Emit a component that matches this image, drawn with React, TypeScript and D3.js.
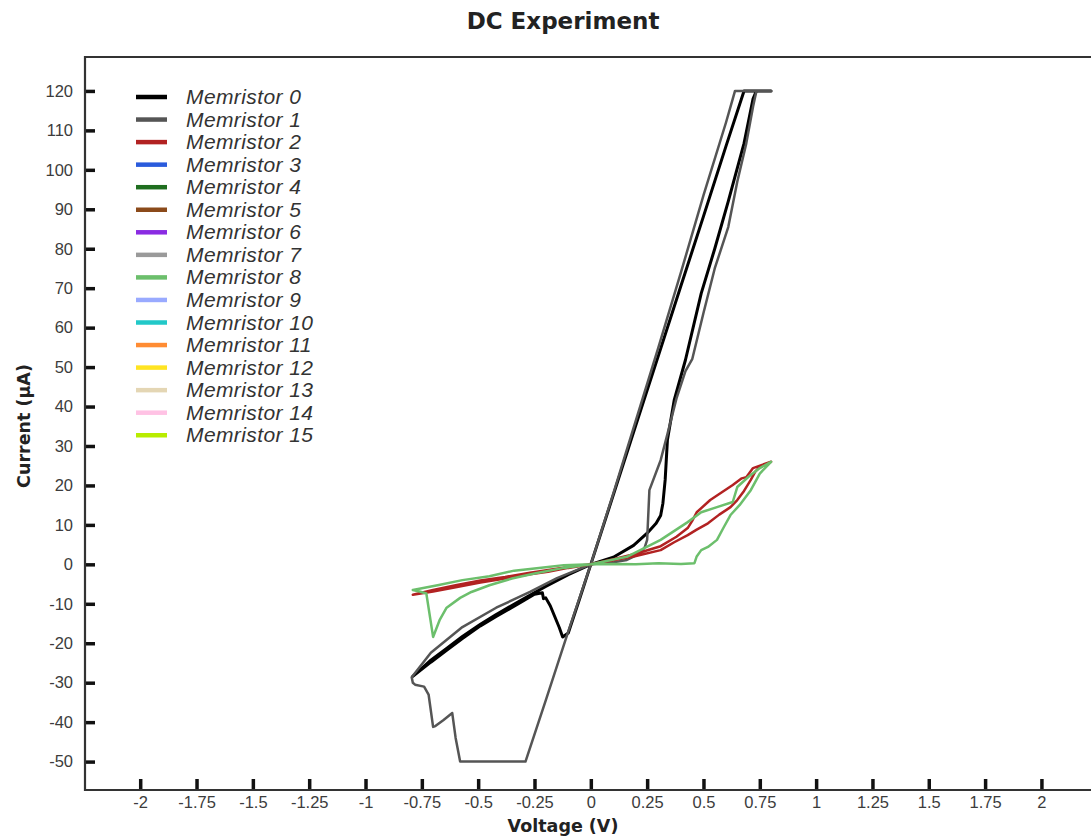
import React, { useEffect, useRef } from "react";
import * as d3 from "d3";

// --- data (voltage in V, current in µA) ---
const memristorNames = d3.range(16).map((i) => "Memristor " + i);
const memristorColors = [
  "#000000", "#555555", "#b22222", "#2a5bdc", "#1f6e1f", "#8b4a1a", "#8a2be2", "#9a9a9a",
  "#6cbf6c", "#99aaff", "#22c8c8", "#ff8c33", "#ffe422", "#e4d6b4", "#ffc2e4", "#b8ec00",
];

const mem0: [number, number][] = [
  [0, 0], [0.1, 1.8], [0.19, 4.8], [0.25, 7.9], [0.29, 10.4], [0.31, 12.4], [0.32, 15.5], [0.33, 21.4], [0.34, 31.5],
  [0.37, 41.6], [0.42, 51.8], [0.49, 68.7], [0.55, 80], [0.61, 92], [0.68, 106.7], [0.72, 118], [0.735, 120],
  [0.8, 120], [0.68, 120], [0.6, 106], [0.5, 88.2], [0.4, 70.6], [0.3, 52.9], [0.2, 35.3], [0.1, 17.6], [0, 0],
  [-0.05, -8.8], [-0.1, -17.4], [-0.125, -18.4], [-0.14, -16], [-0.18, -10.5], [-0.2, -8.5], [-0.21, -8.7],
  [-0.215, -7.2], [-0.25, -7.6], [-0.31, -9.6], [-0.42, -13.2], [-0.49, -15.6], [-0.57, -18.8], [-0.64, -21.8],
  [-0.71, -24.8], [-0.79, -28.4], [-0.71, -24.3], [-0.64, -21.3], [-0.57, -18.3], [-0.49, -15.2], [-0.42, -12.7],
  [-0.31, -9.1], [-0.2, -5.6], [-0.1, -2.6], [0, 0],
];

const mem1: [number, number][] = [
  [0, 0], [0.1, 0.5], [0.16, 1.1], [0.22, 2.8], [0.24, 4.4], [0.25, 6.2], [0.26, 18.8], [0.31, 26.4],
  [0.34, 33], [0.38, 42], [0.42, 49], [0.45, 52], [0.5, 63.7], [0.55, 75], [0.61, 85.5], [0.65, 97],
  [0.69, 106.7], [0.72, 116], [0.735, 120], [0.8, 120], [0.64, 120], [0.63, 118], [0.6, 112],
  [0.5, 93.5], [0.4, 74], [0.3, 55], [0.2, 36.5], [0.1, 18], [0, 0], [-0.1, -17], [-0.2, -34.5],
  [-0.29, -50], [-0.58, -50], [-0.6, -44], [-0.615, -37.7], [-0.655, -39.5], [-0.69, -41], [-0.7, -41.2],
  [-0.72, -33], [-0.74, -31], [-0.78, -30.5], [-0.79, -30], [-0.795, -28.6], [-0.71, -22.4], [-0.57, -15.9],
  [-0.42, -11], [-0.27, -7], [-0.15, -3.5], [0, 0],
];

const mem2: [number, number][] = [
  [0, 0], [-0.1, -0.9], [-0.19, -1.9], [-0.27, -2.5], [-0.38, -3.6], [-0.49, -4.6], [-0.6, -5.8],
  [-0.7, -6.9], [-0.79, -7.7], [-0.7, -6.5], [-0.6, -5.3], [-0.49, -4.1], [-0.38, -3.2], [-0.27, -2.1],
  [-0.1, -0.7], [0, 0], [0.1, 1.3], [0.2, 2.7], [0.31, 4.6], [0.38, 7], [0.43, 9.2], [0.45, 11],
  [0.47, 13.2], [0.53, 16.3], [0.58, 18.2], [0.63, 20.1], [0.67, 21.8], [0.69, 22.1], [0.72, 24.4],
  [0.76, 25.2], [0.8, 26], [0.75, 24.7], [0.73, 23.5], [0.71, 21.4], [0.68, 18.6], [0.65, 16.3],
  [0.62, 14.5], [0.57, 12.6], [0.52, 10.4], [0.47, 8.8], [0.43, 7.4], [0.37, 5.6], [0.31, 3.6],
  [0.2, 2.1], [0.1, 1.0], [0, 0],
];

const mem8: [number, number][] = [
  [0, 0], [0.1, 0.1], [0.2, 0], [0.3, 0.3], [0.4, 0.1], [0.46, 0.3], [0.47, 2], [0.49, 3.6],
  [0.52, 4.4], [0.56, 6.2], [0.59, 9.4], [0.62, 12.5], [0.66, 15], [0.71, 18.8], [0.75, 23], [0.8, 26],
  [0.75, 24.4], [0.7, 22.2], [0.65, 19.6], [0.63, 15.8], [0.56, 14.5], [0.49, 13.2], [0.43, 10.7],
  [0.31, 6.2], [0.16, 1.9], [0, 0], [-0.12, -0.2], [-0.19, -0.7], [-0.34, -1.6], [-0.45, -3],
  [-0.57, -4], [-0.68, -5.3], [-0.79, -6.5], [-0.76, -6.9], [-0.73, -7.4], [-0.7, -18.4],
  [-0.67, -14], [-0.64, -11], [-0.58, -8.5], [-0.53, -7], [-0.45, -5.3], [-0.35, -3.6],
  [-0.25, -2.3], [-0.12, -0.9], [0, 0],
];

const traces = [
  { index: 0, points: mem0 },
  { index: 1, points: mem1 },
  { index: 2, points: mem2 },
  { index: 8, points: mem8 },
];

const xTicks = d3.range(-2, 2.001, 0.25);
const yTicks = d3.range(-50, 121, 10);

const tickFont = "'Liberation Sans', Arial, sans-serif";
const titleFont = "'DejaVu Sans', sans-serif";

export default function App() {
  const ref = useRef<SVGSVGElement>(null);

  useEffect(() => {
    const svg = d3.select(ref.current);
    svg.selectAll("*").remove();

    const left = 85, right = 1091, top = 57, bottom = 790;
    const x = d3.scaleLinear().domain([-2.245, 2.22]).range([left, right]);
    const y = d3.scaleLinear().domain([-57.2, 128.6]).range([bottom, top]);

    svg.append("rect").attr("width", 1091).attr("height", 837).attr("fill", "#fff");

    // title
    svg.append("text")
      .attr("x", 563).attr("y", 29)
      .attr("text-anchor", "middle")
      .style("font-family", titleFont)
      .style("font-weight", "bold")
      .style("font-size", "23px")
      .attr("fill", "#222")
      .text("DC Experiment");

    // traces
    const clip = svg.append("defs").append("clipPath").attr("id", "plotclip");
    clip.append("rect").attr("x", left).attr("y", top).attr("width", right - left).attr("height", bottom - top);

    const line = d3.line<[number, number]>()
      .x((d) => x(d[0]))
      .y((d) => y(d[1]));

    const plot = svg.append("g").attr("clip-path", "url(#plotclip)");
    traces.forEach((t) => {
      plot.append("path")
        .attr("d", line(t.points))
        .attr("fill", "none")
        .attr("stroke", memristorColors[t.index])
        .attr("stroke-width", t.index === 0 ? 3 : 2.5)
        .attr("stroke-linejoin", "round")
        .attr("stroke-linecap", "round");
    });

    // y axis, ticks pointing inward
    const yAxis = svg.append("g")
      .attr("transform", `translate(${left},0)`)
      .call(d3.axisLeft(y).tickValues(yTicks).tickSize(-10).tickPadding(12).tickFormat((d) => String(d)));
    yAxis.attr("font-family", null).attr("font-size", null);
    yAxis.select(".domain").remove();
    yAxis.selectAll("line").attr("stroke", "#111").attr("stroke-width", 3.5);
    yAxis.selectAll("text")
      .style("font-family", tickFont)
      .style("font-size", "16.5px")
      .attr("fill", "#3c3c3c");

    const xAxis = svg.append("g")
      .attr("transform", `translate(0,${bottom})`)
      .call(d3.axisBottom(x).tickValues(xTicks).tickSize(-11).tickPadding(6).tickFormat((d) => String(d)));
    xAxis.attr("font-family", null).attr("font-size", null);
    xAxis.select(".domain").remove();
    xAxis.selectAll("line").attr("stroke", "#111").attr("stroke-width", 3.5);
    xAxis.selectAll("text")
      .style("font-family", tickFont)
      .style("font-size", "16.5px")
      .attr("fill", "#3c3c3c");

    // frame
    svg.append("path")
      .attr("d", `M${right},${top}H${left}V${bottom}H${right}`)
      .attr("fill", "none")
      .attr("stroke", "#333")
      .attr("stroke-width", 2.2);

    // axis titles
    svg.append("text")
      .attr("x", 563).attr("y", 832)
      .attr("text-anchor", "middle")
      .style("font-family", titleFont)
      .style("font-weight", "bold")
      .style("font-size", "17.5px")
      .attr("fill", "#222")
      .text("Voltage (V)");

    svg.append("text")
      .attr("transform", "translate(30,426) rotate(-90)")
      .attr("text-anchor", "middle")
      .style("font-family", titleFont)
      .style("font-weight", "bold")
      .style("font-size", "17.5px")
      .attr("fill", "#222")
      .text("Current (µA)");

    // legend
    const legend = svg.append("g");
    memristorNames.forEach((name, i) => {
      const ly = 97 + i * 22.55;
      legend.append("line")
        .attr("x1", 136).attr("x2", 167)
        .attr("y1", ly).attr("y2", ly)
        .attr("stroke", memristorColors[i])
        .attr("stroke-width", 4.5);
      legend.append("text")
        .attr("x", 186).attr("y", ly + 7)
        .style("font-family", tickFont)
        .style("font-style", "italic")
        .style("font-size", "21px")
        .style("letter-spacing", "0.4px")
        .attr("fill", "#333")
        .text(name);
    });
  }, []);

  return (
    <svg
      ref={ref}
      width={1091}
      height={837}
      style={{ position: "absolute", left: 0, top: 0 }}
    />
  );
}
